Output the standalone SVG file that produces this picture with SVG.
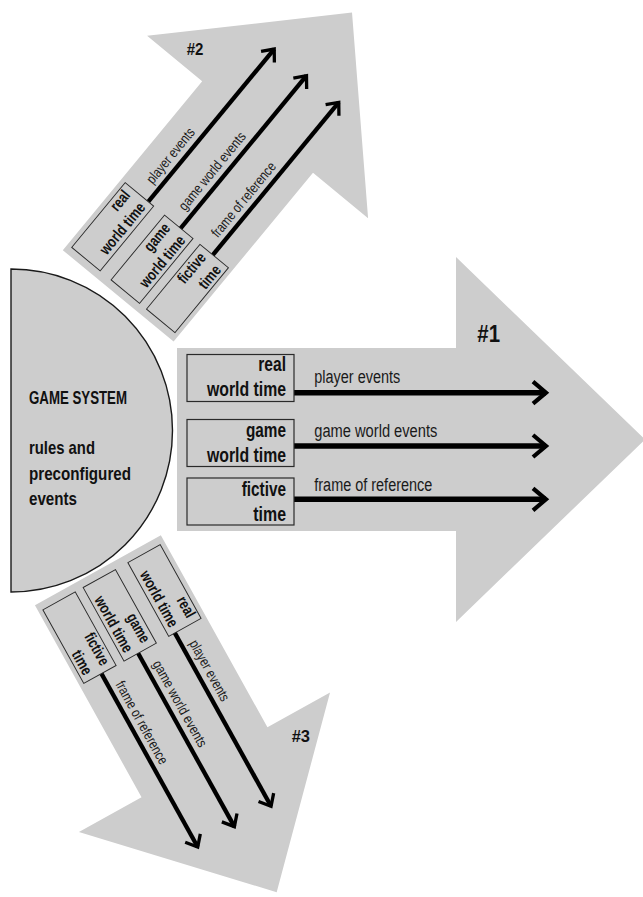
<svg xmlns="http://www.w3.org/2000/svg" width="643" height="897" viewBox="0 0 643 897">
<defs>
<style>
.shape{fill:#cdcdcd}
.disc{fill:#cdcdcd;stroke:#1a1a1a;stroke-width:1.4}
.box{fill:none;stroke:#2a2a2a;stroke-width:1.2}
.bt{font-family:"Liberation Sans",Arial,sans-serif;font-weight:bold;font-size:20px;fill:#111}
.lt{font-family:"Liberation Sans",Arial,sans-serif;font-size:18px;fill:#1a1a1a}
.gs{font-family:"Liberation Sans",Arial,sans-serif;font-weight:bold;font-size:19px;fill:#111}
.num{font-family:"Liberation Sans",Arial,sans-serif;font-weight:bold;fill:#111}
.flow{stroke:#000;stroke-width:5.5;fill:none;marker-end:url(#chev)}
</style>
<marker id="chev" viewBox="-18 -16 24 32" markerUnits="userSpaceOnUse" markerWidth="24" markerHeight="32" refX="0" refY="0" orient="auto" overflow="visible">
<path d="M-13,-11 L0,0 L-13,11" fill="none" stroke="#000" stroke-width="4.2" stroke-linejoin="miter"/>
</marker>
</defs>

<g id="game-system">
<path class="disc" d="M11,269 A161.5,161.5 0 0 1 11,592 Z"/>
<text class="gs" x="29" y="404" textLength="98" lengthAdjust="spacingAndGlyphs">GAME SYSTEM</text>
<text class="gs" x="29" y="454" textLength="66" lengthAdjust="spacingAndGlyphs">rules and</text>
<text class="gs" x="29" y="479.5" textLength="102" lengthAdjust="spacingAndGlyphs">preconfigured</text>
<text class="gs" x="29" y="505" textLength="48" lengthAdjust="spacingAndGlyphs">events</text>
</g>

<!-- Arrow #1 -->
<g id="arrow-1">
<g transform="translate(177,439.5)">
<path class="shape" d="M0,-91.5 H279 V-182.5 L468,0 L279,182.5 V91.5 H0 Z"/>
<g id="a1-connectors">
<line class="flow" x1="117" y1="-46.8" x2="369" y2="-46.8"/>
<line class="flow" x1="117" y1="6.5" x2="369" y2="6.5"/>
<line class="flow" x1="117" y1="59.8" x2="369" y2="59.8"/>
<text class="lt" x="137.3" y="-56.2" textLength="86" lengthAdjust="spacingAndGlyphs">player events</text>
<text class="lt" x="137.3" y="-2.8" textLength="123" lengthAdjust="spacingAndGlyphs">game world events</text>
<text class="lt" x="137.3" y="51.2" textLength="118" lengthAdjust="spacingAndGlyphs">frame of reference</text>
</g>
<g id="a1-real">
<rect class="box" x="10" y="-85" width="107" height="47"/>
<text class="bt" x="81.3" y="-68.8" textLength="27.7" lengthAdjust="spacingAndGlyphs">real</text>
<text class="bt" x="30" y="-43.8" textLength="79" lengthAdjust="spacingAndGlyphs">world time</text>
</g>
<g id="a1-game">
<rect class="box" x="10" y="-20" width="107" height="47"/>
<text class="bt" x="69" y="-2.8" textLength="40" lengthAdjust="spacingAndGlyphs">game</text>
<text class="bt" x="30" y="22.2" textLength="79" lengthAdjust="spacingAndGlyphs">world time</text>
</g>
<g id="a1-fictive">
<rect class="box" x="10" y="38.5" width="107" height="47"/>
<text class="bt" x="64.7" y="56.2" textLength="44.3" lengthAdjust="spacingAndGlyphs">fictive</text>
<text class="bt" x="76.3" y="81.2" textLength="32.7" lengthAdjust="spacingAndGlyphs">time</text>
</g>
</g>
<text class="num" x="477.3" y="342.3" font-size="24" textLength="22.7" lengthAdjust="spacingAndGlyphs">#1</text>
</g>

<!-- Arrow #2 -->
<g id="arrow-2">
<g transform="matrix(0.4996,-0.6055,0.6055,0.4996,118.2,295.9)">
<path class="shape" d="M0,-91.5 H279 V-182.5 L468,0 L279,182.5 V91.5 H0 Z"/>
<g id="a2-connectors">
<line class="flow" x1="117" y1="-46.8" x2="369" y2="-46.8"/>
<line class="flow" x1="117" y1="6.5" x2="369" y2="6.5"/>
<line class="flow" x1="117" y1="59.8" x2="369" y2="59.8"/>
<text class="lt" x="137.3" y="-56.2" textLength="86" lengthAdjust="spacingAndGlyphs">player events</text>
<text class="lt" x="137.3" y="-2.8" textLength="123" lengthAdjust="spacingAndGlyphs">game world events</text>
<text class="lt" x="137.3" y="51.2" textLength="118" lengthAdjust="spacingAndGlyphs">frame of reference</text>
</g>
<g id="a2-real">
<rect class="box" x="10" y="-85" width="107" height="47"/>
<text class="bt" x="81.3" y="-68.8" textLength="27.7" lengthAdjust="spacingAndGlyphs">real</text>
<text class="bt" x="30" y="-43.8" textLength="79" lengthAdjust="spacingAndGlyphs">world time</text>
</g>
<g id="a2-game">
<rect class="box" x="10" y="-20" width="107" height="47"/>
<text class="bt" x="69" y="-2.8" textLength="40" lengthAdjust="spacingAndGlyphs">game</text>
<text class="bt" x="30" y="22.2" textLength="79" lengthAdjust="spacingAndGlyphs">world time</text>
</g>
<g id="a2-fictive">
<rect class="box" x="10" y="38.5" width="107" height="47"/>
<text class="bt" x="64.7" y="56.2" textLength="44.3" lengthAdjust="spacingAndGlyphs">fictive</text>
<text class="bt" x="76.3" y="81.2" textLength="32.7" lengthAdjust="spacingAndGlyphs">time</text>
</g>
</g>
<text class="num" x="186.7" y="55" font-size="16" textLength="16.7" lengthAdjust="spacingAndGlyphs">#2</text>
</g>

<!-- Arrow #3 -->
<g id="arrow-3">
<g transform="matrix(0.382,0.688,-0.688,0.382,97.9,570.3)">
<path class="shape" d="M0,-91.5 H279 V-182.5 L468,0 L279,182.5 V91.5 H0 Z"/>
<g id="a3-connectors">
<line class="flow" x1="117" y1="-46.8" x2="369" y2="-46.8"/>
<line class="flow" x1="117" y1="6.5" x2="369" y2="6.5"/>
<line class="flow" x1="117" y1="59.8" x2="369" y2="59.8"/>
<text class="lt" x="137.3" y="-56.2" textLength="86" lengthAdjust="spacingAndGlyphs">player events</text>
<text class="lt" x="137.3" y="-2.8" textLength="123" lengthAdjust="spacingAndGlyphs">game world events</text>
<text class="lt" x="137.3" y="51.2" textLength="118" lengthAdjust="spacingAndGlyphs">frame of reference</text>
</g>
<g id="a3-real">
<rect class="box" x="10" y="-85" width="107" height="47"/>
<text class="bt" x="81.3" y="-68.8" textLength="27.7" lengthAdjust="spacingAndGlyphs">real</text>
<text class="bt" x="30" y="-43.8" textLength="79" lengthAdjust="spacingAndGlyphs">world time</text>
</g>
<g id="a3-game">
<rect class="box" x="10" y="-20" width="107" height="47"/>
<text class="bt" x="69" y="-2.8" textLength="40" lengthAdjust="spacingAndGlyphs">game</text>
<text class="bt" x="30" y="22.2" textLength="79" lengthAdjust="spacingAndGlyphs">world time</text>
</g>
<g id="a3-fictive">
<rect class="box" x="10" y="38.5" width="107" height="47"/>
<text class="bt" x="64.7" y="56.2" textLength="44.3" lengthAdjust="spacingAndGlyphs">fictive</text>
<text class="bt" x="76.3" y="81.2" textLength="32.7" lengthAdjust="spacingAndGlyphs">time</text>
</g>
</g>
<text class="num" x="291.7" y="741.7" font-size="16" textLength="18.3" lengthAdjust="spacingAndGlyphs">#3</text>
</g>
</svg>
